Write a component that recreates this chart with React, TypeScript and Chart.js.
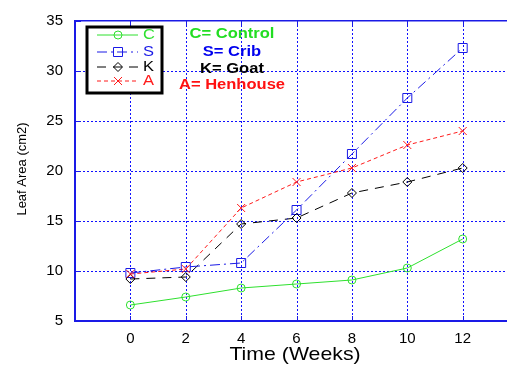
import React, { useEffect, useRef } from "react";
import { Chart, registerables } from "chart.js";

Chart.register(...registerables);

const weeks = [0, 2, 4, 6, 8, 10, 12];
const controlC = [6.6, 7.4, 8.3, 8.7, 9.1, 10.3, 13.2];
const cribS = [9.8, 10.4, 10.8, 16.1, 21.7, 27.3, 32.3];
const goatK = [9.2, 9.4, 14.7, 15.3, 17.8, 18.9, 20.3];
const henhouseA = [9.7, 10.2, 16.3, 18.9, 20.3, 22.6, 24.0];
const seriesLabels = ["C", "S", "K", "A"];
const noteLabels = ["C= Control", "S= Crib", "K= Goat", "A= Henhouse"];
const xTickValues = [0, 2, 4, 6, 8, 10, 12];
const xTitle = "Time (Weeks)";
const yTitle = "Leaf Area (cm2)";

const GREEN = "#2ee02e";
const BLUE = "#1a1ae6";
const BLACK = "#000000";
const RED = "#ff1a1a";
const GRID = "#1010ff";
const FONT = "'Liberation Sans', Arial, sans-serif";

const styles = [
  { color: GREEN, dash: [] as number[], marker: "circle", text: "#22dd22" },
  { color: BLUE, dash: [10, 4, 2, 4], marker: "square", text: "#0000ee" },
  { color: BLACK, dash: [9, 7], marker: "diamond", text: "#000000" },
  { color: RED, dash: [4, 3], marker: "cross", text: "#ff1111" },
];

function drawMarker(ctx: CanvasRenderingContext2D, kind: string, x: number, y: number, color: string) {
  ctx.save();
  ctx.setLineDash([]);
  ctx.strokeStyle = color;
  ctx.lineWidth = 1;
  ctx.beginPath();
  if (kind === "circle") {
    ctx.arc(x, y, 4, 0, Math.PI * 2);
  } else if (kind === "square") {
    ctx.rect(x - 4.5, y - 4.5, 9, 9);
  } else if (kind === "diamond") {
    ctx.moveTo(x, y - 4.5);
    ctx.lineTo(x + 4.5, y);
    ctx.lineTo(x, y + 4.5);
    ctx.lineTo(x - 4.5, y);
    ctx.closePath();
  } else {
    ctx.moveTo(x - 4, y - 4);
    ctx.lineTo(x + 4, y + 4);
    ctx.moveTo(x - 4, y + 4);
    ctx.lineTo(x + 4, y - 4);
  }
  ctx.stroke();
  ctx.restore();
}

function drawText(
  ctx: CanvasRenderingContext2D,
  text: string,
  x: number,
  y: number,
  font: string,
  color: string,
  align: CanvasTextAlign,
  sx: number,
  rotate = 0
) {
  ctx.save();
  ctx.translate(x, y);
  if (rotate) ctx.rotate(rotate);
  ctx.scale(sx, 1);
  ctx.font = font;
  ctx.fillStyle = color;
  ctx.textAlign = align;
  ctx.textBaseline = "middle";
  ctx.fillText(text, 0, 0);
  ctx.restore();
}

const decorPlugin = {
  id: "decor",
  beforeDatasetsDraw(chart: any) {
    const ctx: CanvasRenderingContext2D = chart.ctx;
    const area = chart.chartArea;
    const xs = chart.scales.x;
    const ys = chart.scales.y;
    ctx.save();
    ctx.strokeStyle = GRID;
    ctx.lineWidth = 1;
    ctx.setLineDash([2, 2]);
    ctx.beginPath();
    xs.ticks.forEach((t: any) => {
      const px = Math.round(xs.getPixelForValue(t.value)) + 0.5;
      ctx.moveTo(px, area.top);
      ctx.lineTo(px, area.bottom);
    });
    ys.ticks.forEach((t: any) => {
      if (t.value <= ys.min || t.value >= ys.max) return;
      const py = Math.round(ys.getPixelForValue(t.value)) + 0.5;
      ctx.moveTo(area.left, py);
      ctx.lineTo(area.right, py);
    });
    ctx.stroke();
    ctx.setLineDash([]);
    // inner tick marks
    ctx.strokeStyle = BLUE;
    ctx.beginPath();
    xs.ticks.forEach((t: any) => {
      const px = Math.round(xs.getPixelForValue(t.value)) + 0.5;
      ctx.moveTo(px, area.bottom);
      ctx.lineTo(px, area.bottom - 5);
      ctx.moveTo(px, area.top);
      ctx.lineTo(px, area.top + 5);
    });
    ys.ticks.forEach((t: any) => {
      const py = Math.round(ys.getPixelForValue(t.value)) + 0.5;
      ctx.moveTo(area.left, py);
      ctx.lineTo(area.left + 6, py);
    });
    ctx.stroke();
    ctx.restore();
  },
  afterDatasetsDraw(chart: any) {
    const ctx: CanvasRenderingContext2D = chart.ctx;
    chart.data.datasets.forEach((ds: any, i: number) => {
      const meta = chart.getDatasetMeta(i);
      meta.data.forEach((pt: any) => drawMarker(ctx, styles[i].marker, pt.x, pt.y, styles[i].color));
    });
  },
  afterDraw(chart: any) {
    const ctx: CanvasRenderingContext2D = chart.ctx;
    // legend box
    ctx.save();
    ctx.fillStyle = "#ffffff";
    ctx.fillRect(87, 27, 75, 66);
    ctx.strokeStyle = "#000000";
    ctx.lineWidth = 3;
    ctx.strokeRect(87, 27, 75, 66);
    ctx.restore();
    const rows = [35, 52, 67, 81];
    seriesLabels.forEach((lab, i) => {
      const y = rows[i];
      ctx.save();
      ctx.strokeStyle = styles[i].color;
      ctx.lineWidth = 1;
      ctx.setLineDash(styles[i].dash);
      ctx.beginPath();
      ctx.moveTo(97, y);
      ctx.lineTo(138, y);
      ctx.stroke();
      ctx.restore();
      drawMarker(ctx, styles[i].marker, 118, y, styles[i].color);
      drawText(ctx, lab, 143, y, `15px ${FONT}`, styles[i].color, "left", 1.1);
    });
    // notes
    const noteY = [34, 52, 69, 85];
    noteLabels.forEach((t, i) => {
      drawText(ctx, t, 232, noteY[i], `bold 14px ${FONT}`, styles[i].text, "center", 1.18);
    });
    // axis titles
    drawText(ctx, xTitle, 295, 355, `19px ${FONT}`, "#000000", "center", 1.12);
    drawText(ctx, yTitle, 22, 169, `13px ${FONT}`, "#000000", "center", 1.0, -Math.PI / 2);
  },
};

export default function App() {
  const ref = useRef<HTMLCanvasElement>(null);
  useEffect(() => {
    if (!ref.current) return;
    const mk = (vals: number[]) => weeks.map((w, i) => ({ x: w, y: vals[i] }));
    const all = [controlC, cribS, goatK, henhouseA];
    const chart = new Chart(ref.current, {
      type: "line",
      data: {
        datasets: all.map((vals, i) => ({
          label: seriesLabels[i],
          data: mk(vals),
          borderColor: styles[i].color,
          borderWidth: 1,
          borderDash: styles[i].dash,
          pointRadius: 0,
          fill: false,
          tension: 0,
        })),
      },
      options: {
        animation: false,
        responsive: false,
        devicePixelRatio: 1,
        layout: { padding: 0 },
        plugins: { legend: { display: false }, tooltip: { enabled: false } },
        scales: {
          x: {
            type: "linear",
            position: "bottom",
            min: -2,
            max: 13.6,
            afterBuildTicks: (s: any) => {
              s.ticks = xTickValues.map((v) => ({ value: v }));
            },
            afterFit: (s: any) => {
              s.height = 46;
            },
            grid: { drawOnChartArea: false, drawTicks: false },
            border: { color: BLUE, width: 2 },
            ticks: { color: "#000", font: { family: FONT, size: 15 }, padding: 9, maxRotation: 0 },
          },
          x2: {
            type: "linear",
            position: "top",
            min: -2,
            max: 13.6,
            afterFit: (s: any) => {
              s.height = 15;
            },
            grid: { display: false, drawTicks: false },
            border: { color: BLUE, width: 1.5 },
            ticks: { display: false },
          },
          y: {
            min: 5,
            max: 35,
            afterFit: (s: any) => {
              s.width = 75;
            },
            grid: { drawOnChartArea: false, drawTicks: false },
            border: { color: BLUE, width: 2 },
            ticks: { stepSize: 5, color: "#000", font: { family: FONT, size: 15 }, padding: 12 },
          },
        },
      },
      plugins: [decorPlugin],
    });
    return () => chart.destroy();
  }, []);
  return (
    <div style={{ position: "absolute", left: 0, top: 0, width: 507, height: 367, background: "#fff" }}>
      <canvas ref={ref} width={507} height={367} />
    </div>
  );
}
